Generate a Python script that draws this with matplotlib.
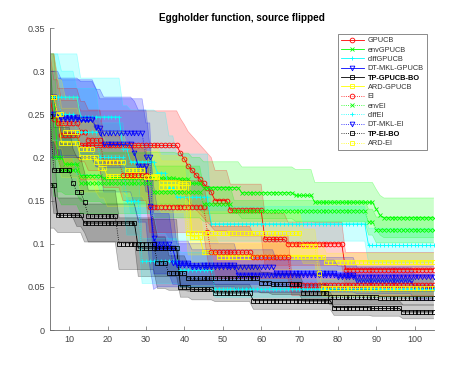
import numpy as np
import matplotlib
matplotlib.use("Agg")
import matplotlib.pyplot as plt
from matplotlib.ticker import FuncFormatter

plt.rcParams['font.family'] = ['Liberation Sans', 'DejaVu Sans']

iters = np.arange(5, 106)

# ---- data: step change points (iteration where value changes), mean value, band half-width ----
x_GPUCB = [5, 6, 8, 13, 39, 40, 41, 42, 43, 44, 45, 46, 47, 48, 52, 61, 67, 82]
y_GPUCB = [0.27, 0.245, 0.226, 0.214, 0.205, 0.198, 0.19, 0.185, 0.18, 0.175, 0.17, 0.165, 0.16, 0.15, 0.139, 0.105, 0.1, 0.07]
s_GPUCB = [0.05, 0.045, 0.04, 0.04, 0.04, 0.04, 0.04, 0.04, 0.04, 0.04, 0.04, 0.04, 0.04, 0.035, 0.03, 0.03, 0.025, 0.02]

x_envGPUCB = [5, 7, 9, 13, 19, 38, 42, 45, 55, 69, 74, 90, 91, 92]
y_envGPUCB = [0.27, 0.2, 0.192, 0.179, 0.176, 0.175, 0.17, 0.165, 0.159, 0.156, 0.148, 0.14, 0.133, 0.13]
s_envGPUCB = [0.05, 0.04, 0.035, 0.03, 0.03, 0.03, 0.03, 0.03, 0.03, 0.03, 0.023, 0.023, 0.023, 0.023]

x_diffGPUCB = [5, 13, 24, 26, 33, 36, 38, 47, 88]
y_diffGPUCB = [0.27, 0.247, 0.21, 0.195, 0.182, 0.165, 0.154, 0.123, 0.098]
s_diffGPUCB = [0.05, 0.045, 0.05, 0.06, 0.07, 0.06, 0.05, 0.02, 0.02]

x_DTMKLGPUCB = [5, 7, 13, 17, 19, 27, 28, 31, 32, 33, 38, 54, 85, 100]
y_DTMKLGPUCB = [0.27, 0.247, 0.243, 0.234, 0.215, 0.205, 0.19, 0.144, 0.107, 0.095, 0.075, 0.064, 0.057, 0.049]
s_DTMKLGPUCB = [0.05, 0.045, 0.045, 0.045, 0.055, 0.06, 0.065, 0.07, 0.06, 0.045, 0.025, 0.02, 0.015, 0.015]

x_TPGPUCB = [5, 7, 14, 28, 39, 42, 48, 58, 79, 89, 97]
y_TPGPUCB = [0.168, 0.133, 0.124, 0.095, 0.05, 0.047, 0.043, 0.034, 0.026, 0.025, 0.021]
s_TPGPUCB = [0.05, 0.02, 0.022, 0.033, 0.012, 0.012, 0.01, 0.01, 0.009, 0.009, 0.008]

x_ARDGPUCB = [5, 7, 8, 13, 18, 20, 34, 39, 42, 45, 49, 77]
y_ARDGPUCB = [0.27, 0.249, 0.217, 0.2, 0.188, 0.178, 0.172, 0.17, 0.108, 0.09, 0.085, 0.079]
s_ARDGPUCB = [0.05, 0.045, 0.04, 0.04, 0.035, 0.035, 0.03, 0.03, 0.03, 0.02, 0.015, 0.01]

x_EI = [5, 7, 13, 15, 19, 24, 31, 46, 47, 58, 68]
y_EI = [0.27, 0.24, 0.23, 0.22, 0.195, 0.18, 0.143, 0.114, 0.09, 0.085, 0.052]
s_EI = [0.05, 0.04, 0.035, 0.035, 0.03, 0.03, 0.03, 0.03, 0.03, 0.025, 0.012]

x_envEI = [5, 6, 8, 13, 32, 45, 53, 88, 90]
y_envEI = [0.27, 0.2, 0.185, 0.17, 0.16, 0.146, 0.138, 0.125, 0.116]
s_envEI = [0.05, 0.045, 0.04, 0.035, 0.03, 0.02, 0.012, 0.015, 0.015]

x_diffEI = [5, 8, 12, 18, 25, 29, 39, 48]
y_diffEI = [0.27, 0.25, 0.23, 0.2, 0.15, 0.08, 0.07, 0.048]
s_diffEI = [0.05, 0.05, 0.05, 0.04, 0.04, 0.026, 0.02, 0.01]

x_DTMKLEI = [5, 8, 17, 18, 30, 32, 37, 42, 64, 80]
y_DTMKLEI = [0.25, 0.245, 0.235, 0.228, 0.2, 0.1, 0.078, 0.073, 0.066, 0.062]
s_DTMKLEI = [0.05, 0.045, 0.045, 0.04, 0.04, 0.035, 0.025, 0.02, 0.015, 0.012]

x_TPEI = [5, 6, 11, 12, 14, 15, 23, 33, 36, 41, 60, 63, 71, 78, 91]
y_TPEI = [0.248, 0.185, 0.17, 0.16, 0.148, 0.132, 0.1, 0.078, 0.066, 0.06, 0.055, 0.053, 0.043, 0.038, 0.037]
s_TPEI = [0.075, 0.05, 0.04, 0.04, 0.035, 0.03, 0.03, 0.03, 0.02, 0.015, 0.012, 0.012, 0.01, 0.009, 0.008]

x_ARDEI = [5, 7, 9, 13, 17, 25, 30, 34, 41, 71, 75, 76]
y_ARDEI = [0.27, 0.25, 0.23, 0.21, 0.195, 0.185, 0.177, 0.166, 0.112, 0.097, 0.066, 0.049]
s_ARDEI = [0.05, 0.04, 0.04, 0.035, 0.035, 0.03, 0.03, 0.03, 0.025, 0.02, 0.015, 0.01]

labels = ['GPUCB', 'envGPUCB', 'diffGPUCB', 'DT-MKL-GPUCB', 'TP-GPUCB-BO', 'ARD-GPUCB',
          'EI', 'envEI', 'diffEI', 'DT-MKL-EI', 'TP-EI-BO', 'ARD-EI']
series = [
    (x_GPUCB, y_GPUCB, s_GPUCB), (x_envGPUCB, y_envGPUCB, s_envGPUCB),
    (x_diffGPUCB, y_diffGPUCB, s_diffGPUCB), (x_DTMKLGPUCB, y_DTMKLGPUCB, s_DTMKLGPUCB),
    (x_TPGPUCB, y_TPGPUCB, s_TPGPUCB), (x_ARDGPUCB, y_ARDGPUCB, s_ARDGPUCB),
    (x_EI, y_EI, s_EI), (x_envEI, y_envEI, s_envEI), (x_diffEI, y_diffEI, s_diffEI),
    (x_DTMKLEI, y_DTMKLEI, s_DTMKLEI), (x_TPEI, y_TPEI, s_TPEI), (x_ARDEI, y_ARDEI, s_ARDEI),
]
colors = ['#ff0000', '#00ff00', '#00ffff', '#0000ff', '#000000', '#ffff00'] * 2
markers = ['o', 'x', '+', 'v', 's', 's'] * 2
styles = ['-'] * 6 + [':'] * 6


def expand(xb, vals):
    idx = np.searchsorted(np.asarray(xb), iters, side='right') - 1
    return np.asarray(vals)[idx]


fig = plt.figure(figsize=(4.67, 3.71), dpi=100)
ax = fig.add_axes([0.107, 0.1105, 0.822, 0.814])

handles = []
for (xb, yb, sb), c, m, ls, lab in zip(series, colors, markers, styles, labels):
    mean = expand(xb, yb)
    sd = expand(xb, sb)
    lo = np.clip(mean - sd, 0, 0.322)
    hi = np.clip(mean + sd, 0, 0.322)
    ax.fill_between(iters, lo, hi, facecolor=c, alpha=0.2, edgecolor='none')
    ax.plot(iters, hi, color=c, lw=0.5, alpha=0.3)
    ax.plot(iters, lo, color=c, lw=0.5, alpha=0.3)
    h, = ax.plot(iters, mean, color=c, ls=ls, lw=0.6, marker=m, ms=3.4,
                 mfc='none', mec=c, mew=0.6, label=lab)
    handles.append(h)

ax.set_xlim(5, 105)
ax.set_ylim(0, 0.35)
ax.set_xticks(np.arange(10, 101, 10))
ax.set_yticks(np.arange(0, 0.351, 0.05))
ax.yaxis.set_major_formatter(FuncFormatter(lambda v, p: '%g' % round(v, 2)))
for s in ['top', 'right']:
    ax.spines[s].set_visible(False)
for s in ['left', 'bottom']:
    ax.spines[s].set_color('#666666')
    ax.spines[s].set_linewidth(0.6)
ax.tick_params(direction='in', length=3, width=0.5, colors='#666666',
               labelcolor='#444444', labelsize=6.5, pad=3.5)

ax.set_title('Eggholder function, source flipped', fontsize=7.2, fontweight='bold', pad=5)

leg = ax.legend(handles=handles, loc='upper right', bbox_to_anchor=(0.982, 0.98),
                borderaxespad=0, fontsize=5.3, frameon=True, fancybox=False,
                framealpha=1, edgecolor='#777777', handlelength=3.2,
                labelspacing=0.3, borderpad=0.4, handletextpad=0.5)
leg.get_frame().set_linewidth(0.6)
for t in leg.get_texts():
    t.set_color('#333333')
    if t.get_text().startswith('TP'):
        t.set_fontweight('bold')
        t.set_color('#000000')

fig.savefig('out.png', dpi=100)
